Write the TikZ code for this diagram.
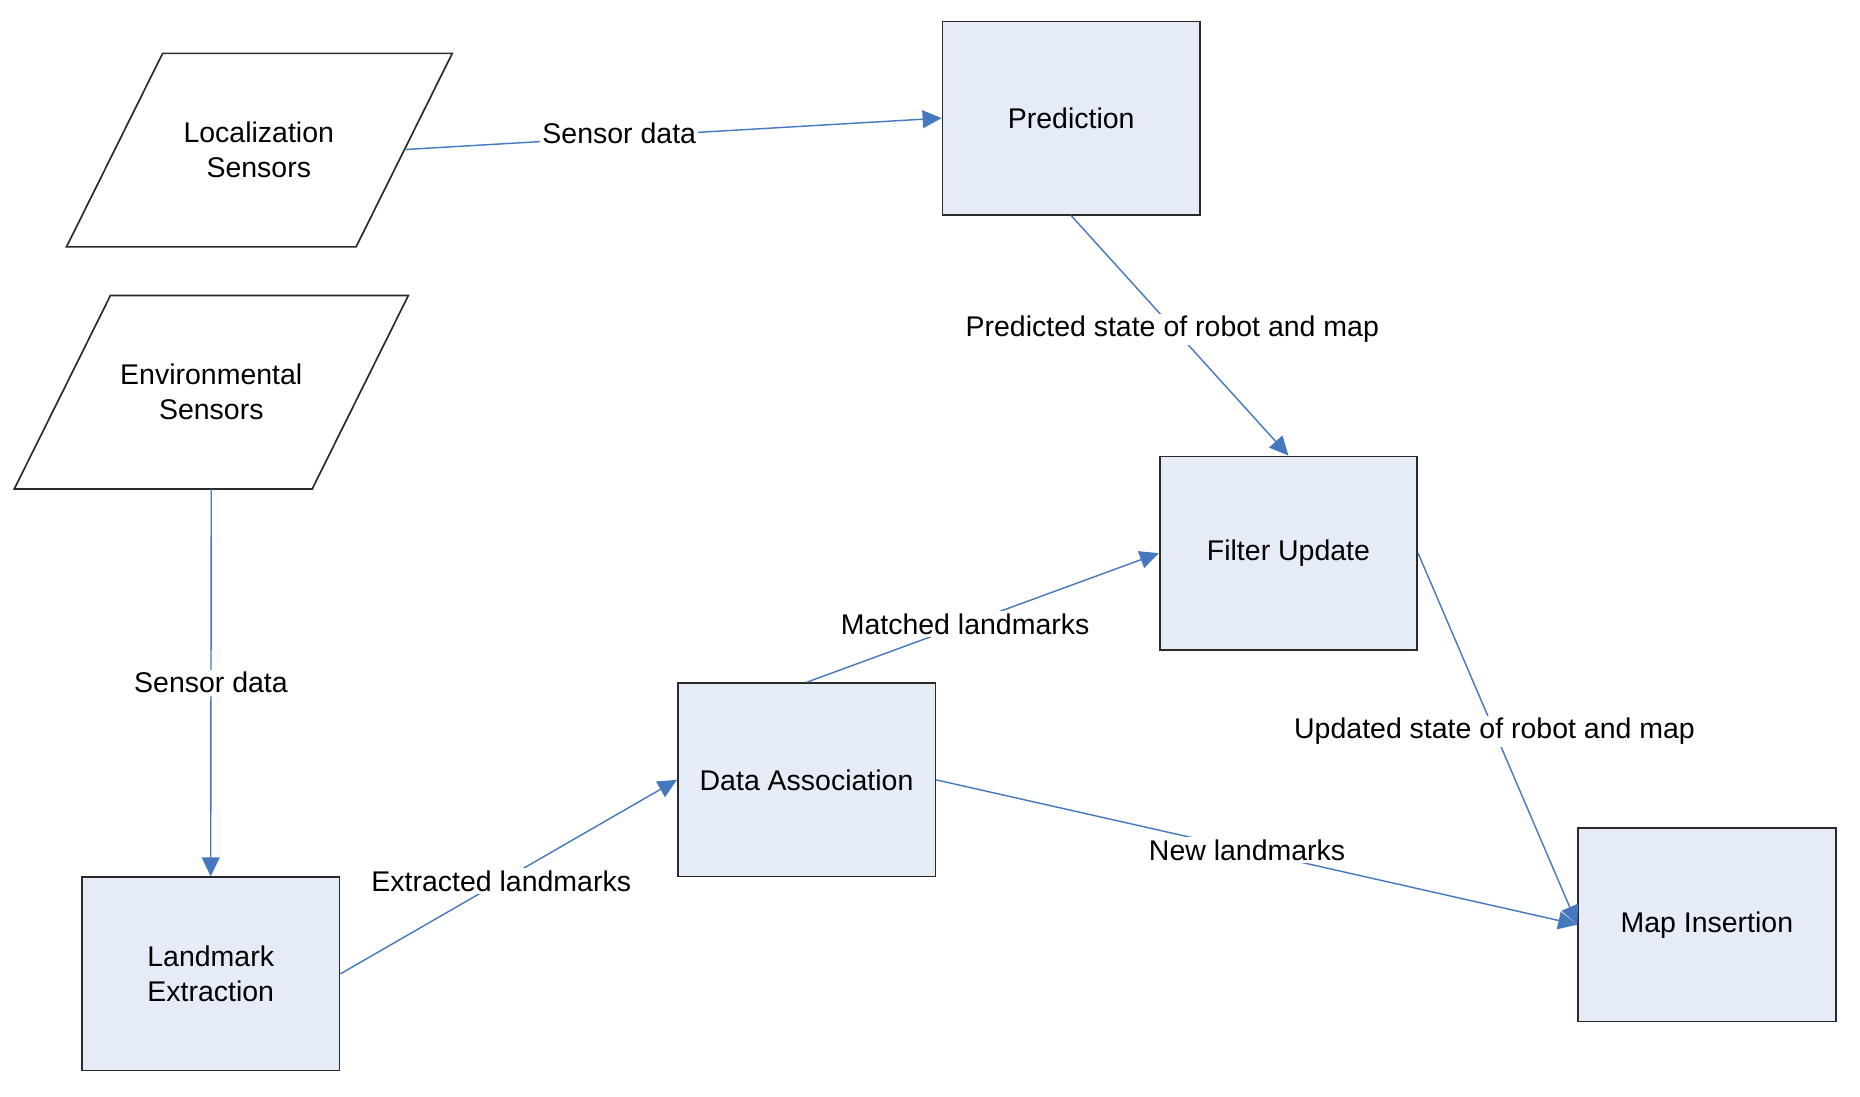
\documentclass[tikz,border=0pt]{standalone}
\usepackage{fontspec}
\setmainfont{Liberation Sans}
\usetikzlibrary{arrows.meta}
\definecolor{boxfill}{HTML}{E6ECF7}
\definecolor{linkblue}{HTML}{4678C0}
\definecolor{edgegray}{HTML}{2A2A2A}
\begin{document}
\begin{tikzpicture}[x=1pt,y=-1pt,
  procbox/.style={draw=edgegray,line width=1.4pt,fill=boxfill,minimum width=217pt,minimum height=163pt,inner sep=0pt,align=center,font=\fontsize{24}{29}\selectfont},
  iotext/.style={align=center,inner sep=0pt,font=\fontsize{24}{29.5}\selectfont},
  iobox/.style={draw=edgegray,line width=1.4pt,fill=white},
  link/.style={draw=linkblue,line width=1.2pt,-{Triangle[length=16pt,width=15pt]}},
  lbl/.style={fill=white,inner sep=2pt,font=\fontsize{24}{28}\selectfont,text=black}]
\useasboundingbox (0,0) rectangle (1567,923.5);
% parallelograms
\draw[iobox] (137,45) -- (381,45) -- (300,208) -- (56,208) -- cycle;
\node[iotext] (loc) at (218,126) {Localization\\Sensors};
\draw[iobox] (93,249) -- (344,249) -- (263,412) -- (12,412) -- cycle;
\node[iotext] (env) at (178,330) {Environmental\\Sensors};
\coordinate (locR) at (340.7,126);
\coordinate (envB) at (178,412);
% process boxes
\node[procbox] (pred) at (902.5,99.5) {Prediction};
\node[procbox] (filt) at (1085.5,466) {Filter Update};
\node[procbox] (da) at (679.5,657) {Data Association};
\node[procbox] (lmx) at (177.5,820.5) {Landmark\\Extraction};
\node[procbox] (map) at (1438,779) {Map Insertion};
% connectors
\draw[link] (locR) -- node[lbl,pos=0.4,yshift=3pt] {Sensor data} (pred.west);
\draw[link] (pred.south) -- node[lbl,pos=0.465,yshift=-2pt] {Predicted state of robot and map} (filt.north);
\draw[link] (envB) -- node[lbl,pos=0.5] {Sensor data} (lmx.north);
\draw[link] (lmx.east) -- node[lbl,pos=0.478] {Extracted landmarks} (da.west);
\draw[link] (da.north) -- node[lbl,pos=0.45] {Matched landmarks} (filt.west);
\draw[link] (filt.east) -- node[lbl,pos=0.48] {Updated state of robot and map} (map.west);
\draw[link] (da.east) -- node[lbl,pos=0.485] {New landmarks} (map.west);
\end{tikzpicture}
\end{document}
